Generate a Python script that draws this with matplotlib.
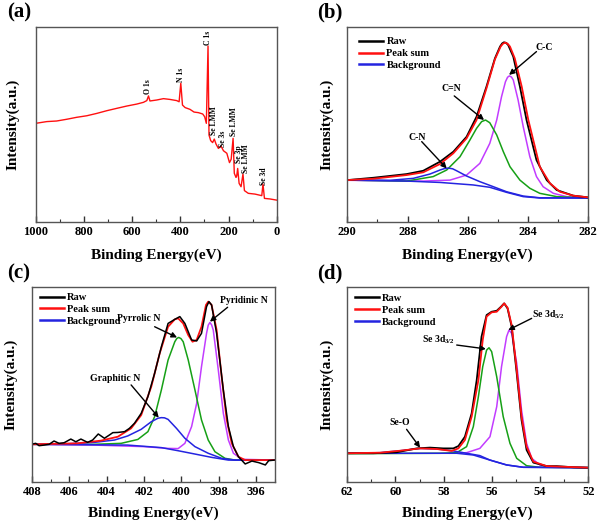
import matplotlib
matplotlib.use("Agg")
import matplotlib.pyplot as plt
from matplotlib.ticker import MultipleLocator

plt.rcParams['font.family'] = 'serif'
plt.rcParams['font.serif'] = ['Liberation Serif', 'DejaVu Serif']
plt.rcParams['font.weight'] = 'bold'
plt.rcParams['mathtext.fontset'] = 'custom'
plt.rcParams['mathtext.rm'] = 'Liberation Serif:bold'
plt.rcParams['mathtext.it'] = 'Liberation Serif:bold'
plt.rcParams['mathtext.bf'] = 'Liberation Serif:bold'

# ---- (a) survey spectrum ----
a_ev = [1000, 954, 913, 871, 830, 788, 747, 705, 664, 622, 581, 553, 539, 532, 526,
        498, 470, 443, 415, 405, 398, 391, 380, 360, 343, 325, 307, 299, 292, 285,
        281, 274, 266, 259, 252, 242, 231, 221, 207, 196, 189, 181, 176, 169, 166,
        162, 156, 148, 140, 134, 118, 90, 62, 57, 51, 28, 0]
a_int = [50.6, 51.5, 51.8, 52.7, 53.7, 54.5, 55.7, 57.1, 58.3, 59.5, 60.5, 61.4, 62.3, 64.7, 62.1,
         62.6, 63.3, 62.9, 62.3, 61.7, 71.2, 60.0, 58.7, 57.8, 56.4, 56.1, 55.4, 54.0, 50.6, 90.4,
         44.6, 41.7, 40.7, 42.5, 40.0, 37.7, 38.9, 36.5, 35.2, 30.4, 32.1, 42.9, 24.9, 22.8, 23.5,
         27.4, 19.7, 18.0, 24.5, 16.0, 14.6, 14.2, 13.4, 19.4, 12.0, 11.7, 11.1]
a_labels = ['O 1s', 'N 1s', 'C 1s', 'Se LMM', 'Se 3s', 'Se LMM', 'Se 3p', 'Se LMM', 'Se 3d']
a_label_ev = [532, 398, 284, 259, 224, 177, 156, 127, 53]
a_label_y = [65.7, 72.0, 90.9, 44.6, 38.6, 44.0, 30.0, 24.9, 18.9]

# ---- (b) C 1s ----
b_raw_ev = [290.00, 289.14, 288.03, 287.48, 286.92, 286.48, 286.04, 285.71, 285.38, 285.10, 284.93,
            284.86, 284.80, 284.73, 284.66, 284.49, 284.27, 284.05, 283.72, 283.38, 283.05, 282.50,
            282.00]
b_raw = [21.4, 22.6, 24.5, 26.2, 30.9, 36.0, 43.7, 54.0, 69.5, 84.0, 90.1,
         91.7, 92.3, 92.0, 90.9, 84.9, 69.5, 52.3, 31.7, 21.4, 16.3, 13.4,
         12.5]
b_sum_ev = [290.00, 289.14, 288.03, 287.48, 286.92, 286.48, 286.04, 285.71, 285.38, 285.10, 284.91,
            284.83, 284.76, 284.68, 284.60, 284.44, 284.21, 283.99, 283.61, 283.27, 282.94, 282.50,
            282.00]
b_sum = [21.4, 22.1, 24.0, 25.4, 29.7, 35.2, 42.9, 52.3, 68.6, 83.5, 90.1,
         91.6, 92.1, 91.6, 90.1, 84.0, 69.5, 52.3, 28.3, 19.7, 15.4, 13.4,
         12.5]
b_bg_ev = [290.00, 288.03, 286.92, 285.82, 285.27, 284.71, 284.16, 283.61, 282.00]
b_bg = [21.4, 20.9, 20.2, 18.9, 17.7, 15.1, 12.9, 12.2, 12.2]
b_cn_ev = [290.00, 288.58, 287.81, 287.26, 286.92, 286.78, 286.65, 286.50, 286.37, 286.04, 285.60,
           285.15, 284.71, 284.16, 283.61, 282.00]
b_cn = [21.4, 21.3, 22.3, 24.5, 26.6, 27.3, 27.6, 27.2, 26.2, 23.5, 20.6,
        18.0, 15.4, 13.2, 12.3, 12.2]
b_cdn_ev = [290.00, 288.03, 287.15, 286.70, 286.26, 285.93, 285.71, 285.54, 285.41, 285.27, 285.04,
            284.82, 284.60, 284.27, 283.94, 283.61, 283.05, 282.00]
b_cdn = [21.4, 20.9, 23.2, 26.6, 33.4, 42.0, 48.0, 51.5, 52.3, 50.9, 44.6,
         36.0, 28.3, 21.4, 17.2, 14.6, 12.9, 12.2]
b_cc_ev = [290.00, 287.48, 286.59, 286.04, 285.60, 285.27, 285.04, 284.88, 284.75, 284.68, 284.62,
           284.55, 284.49, 284.33, 284.16, 283.94, 283.72, 283.50, 283.16, 282.72, 282.00]
b_cc = [21.3, 20.9, 21.4, 24.0, 30.0, 40.3, 52.3, 64.3, 72.0, 74.3, 75.0,
        74.4, 72.9, 62.6, 48.9, 33.4, 23.2, 18.0, 14.6, 12.9, 12.2]

# ---- (c) N 1s ----
c_raw_ev = [408.00, 407.80, 407.62, 407.35, 407.08, 406.82, 406.55, 406.28, 405.92, 405.65, 405.38,
            405.02, 404.75, 404.45, 404.12, 403.85, 403.67, 403.40, 403.04, 402.78, 402.51, 402.15,
            401.79, 401.43, 401.07, 400.71, 400.35, 400.08, 399.81, 399.45, 399.18, 398.92, 398.65,
            398.52, 398.38, 398.11, 397.75, 397.48, 397.21, 396.94, 396.58, 396.22, 395.86, 395.50,
            395.32, 395.00]
c_raw = [19.3, 19.7, 18.5, 18.8, 19.2, 20.9, 19.7, 20.0, 21.9, 20.5, 21.9,
         20.2, 21.4, 24.5, 22.3, 24.0, 25.2, 25.3, 25.7, 27.4, 30.0, 35.1,
         43.7, 55.7, 69.3, 81.3, 83.4, 84.8, 81.3, 72.8, 72.3, 76.2, 89.9,
         92.5, 90.8, 76.2, 47.1, 28.3, 18.0, 12.8, 9.1, 10.6, 9.8, 8.6,
         10.8, 11.1]
c_sum_ev = [408.00, 405.56, 404.30, 403.40, 402.69, 402.15, 401.61, 401.16, 400.71, 400.35, 400.17,
            399.90, 399.63, 399.40, 399.18, 398.92, 398.68, 398.56, 398.38, 398.11, 397.84, 397.57,
            397.30, 396.94, 396.58, 395.00]
c_sum = [19.2, 19.7, 21.1, 23.1, 27.4, 34.2, 48.8, 65.9, 79.6, 83.4, 83.9,
         81.3, 75.3, 71.9, 72.8, 79.6, 90.8, 92.5, 90.8, 77.9, 53.9, 31.8,
         19.7, 12.8, 11.1, 11.1]
c_bg_ev = [408.00, 402.87, 401.07, 400.17, 399.27, 398.38, 397.48, 395.00]
c_bg = [19.2, 18.8, 17.5, 15.9, 14.2, 12.5, 11.1, 11.1]
c_gra_ev = [408.00, 406.46, 404.66, 403.58, 402.87, 402.15, 401.61, 401.25, 401.07, 400.90, 400.71,
            400.26, 399.81, 399.27, 398.56, 397.84, 397.12, 395.00]
c_gra = [19.2, 19.3, 20.2, 21.4, 23.5, 26.9, 30.8, 32.6, 32.9, 32.8, 32.0,
         27.4, 22.3, 18.0, 14.6, 12.0, 11.1, 11.1]
c_pyrr_ev = [408.00, 404.66, 403.22, 402.33, 401.79, 401.43, 401.07, 400.71, 400.35, 400.24, 400.14,
             400.02, 399.90, 399.63, 399.27, 398.92, 398.56, 398.20, 397.66, 397.12, 395.00]
c_pyrr = [19.2, 19.2, 19.7, 21.7, 25.7, 33.4, 47.1, 62.5, 71.9, 73.6, 74.1,
          73.5, 71.9, 62.5, 47.1, 31.7, 21.4, 15.4, 12.0, 11.1, 11.1]
c_pyri_ev = [408.00, 404.66, 401.97, 400.71, 400.17, 399.81, 399.45, 399.18, 398.92, 398.65, 398.56,
             398.47, 398.38, 398.29, 398.02, 397.75, 397.48, 397.21, 396.76, 395.00]
c_pyri = [19.2, 18.8, 18.0, 17.1, 17.0, 19.7, 28.3, 40.2, 59.1, 76.2, 80.4,
          81.8, 80.6, 77.9, 57.4, 35.1, 21.4, 14.6, 11.5, 11.1]

# ---- (d) Se 3d ----
d_raw_ev = [62.00, 60.92, 59.95, 59.12, 58.57, 58.02, 57.60, 57.39, 57.12, 56.84, 56.63, 56.43,
            56.22, 56.01, 55.80, 55.62, 55.49, 55.35, 55.18, 54.97, 54.77, 54.56, 54.28, 53.73,
            53.31, 52.62, 52.00]
d_raw = [14.6, 14.6, 15.1, 17.1, 17.5, 17.1, 17.1, 18.3, 23.1, 35.1, 52.2, 74.5,
         85.6, 87.3, 87.8, 89.9, 91.6, 89.0, 79.6, 55.7, 31.7, 16.3, 9.8, 8.0,
         8.0, 7.4, 7.2]
d_sum_ev = [62.00, 60.64, 59.81, 58.98, 58.29, 57.67, 57.39, 57.12, 56.84, 56.56, 56.38, 56.22,
            56.01, 55.80, 55.60, 55.49, 55.35, 55.18, 54.97, 54.77, 54.56, 54.28, 53.73, 52.00]
d_sum = [14.6, 14.9, 15.9, 17.1, 16.8, 15.8, 17.1, 21.4, 33.4, 52.2, 72.8, 84.8,
         87.0, 87.3, 89.9, 91.6, 89.4, 80.5, 57.4, 33.4, 18.0, 10.3, 8.0, 7.2]
d_bg_ev = [62.00, 57.46, 56.77, 56.08, 55.39, 54.70, 52.00]
d_bg = [14.6, 14.6, 13.7, 11.1, 8.6, 7.4, 7.2]
d_seo_ev = [62.00, 60.64, 59.81, 58.98, 58.29, 57.60, 57.05, 56.50, 56.08, 55.39, 54.70, 52.00]
d_seo = [14.6, 14.9, 15.9, 17.1, 16.8, 15.8, 14.6, 13.4, 11.1, 8.6, 7.4, 7.2]
d_32_ev = [62.00, 58.15, 57.46, 57.05, 56.77, 56.56, 56.38, 56.22, 56.12, 56.01, 55.80, 55.53,
           55.25, 54.97, 54.56, 54.01, 52.00]
d_32 = [14.4, 14.6, 14.9, 18.0, 28.3, 43.7, 59.1, 67.6, 68.8, 66.8, 53.9, 33.4,
        19.7, 12.0, 8.2, 7.4, 7.2]
d_52_ev = [57.74, 57.05, 56.50, 56.08, 55.80, 55.60, 55.39, 55.29, 55.18, 54.97, 54.77, 54.56,
           54.35, 54.01, 53.45, 52.00]
d_52 = [14.6, 14.9, 17.1, 23.1, 38.5, 59.1, 74.5, 77.9, 76.2, 60.8, 36.8, 19.7,
        12.0, 8.6, 7.4, 7.2]

RED = '#ff1010'
BLUE = '#2424e0'
GREEN = '#16a016'
MAGENTA = '#c23cff'


def style_axes(ax, xlim, major, minor, ylab_x, xlab_y):
    ax.set_xlim(xlim)
    ax.set_ylim(0, 100)
    ax.xaxis.set_major_locator(MultipleLocator(major))
    ax.xaxis.set_minor_locator(MultipleLocator(minor))
    ax.set_yticks([])
    ax.tick_params(axis='x', which='major', direction='in', length=4, width=1,
                   labelsize=9, pad=3, colors='#333333', labelcolor='black')
    ax.tick_params(axis='x', which='minor', direction='in', length=2, width=0.8,
                   colors='#333333')
    for tl in ax.get_xticklabels():
        tl.set_fontweight('bold')
    for sp in ax.spines.values():
        sp.set_color('#555555')
        sp.set_linewidth(1.0)
    ax.set_xlabel('Binding Energy(eV)', fontsize=11, fontweight='bold')
    ax.set_ylabel('Intensity(a.u.)', fontsize=11, fontweight='bold')
    ax.xaxis.set_label_coords(0.5, xlab_y)
    ax.yaxis.set_label_coords(ylab_x, 0.5)


def arrow(ax, text, tpos, tail, head):
    ax.text(tpos[0], tpos[1], text, fontsize=7, fontweight='bold', ha='center', va='center')
    ax.annotate('', xy=head, xytext=tail,
                arrowprops=dict(arrowstyle='-|>', color='black', lw=1.0, mutation_scale=8,
                                shrinkA=0, shrinkB=0))


def legend(ax, anchor):
    h1, = ax.plot([], [], color='black', lw=1.8)
    h2, = ax.plot([], [], color=RED, lw=1.8)
    h3, = ax.plot([], [], color=BLUE, lw=1.8)
    ax.legend([h1, h2, h3], ['Raw', 'Peak sum', 'Background'], loc='upper left',
              bbox_to_anchor=anchor, frameon=False, handlelength=2.3,
              handletextpad=0.3, labelspacing=0.25, borderpad=0, borderaxespad=0,
              prop={'weight': 'bold', 'size': 7.5})


fig = plt.figure(figsize=(6, 5.25), dpi=100)

# (a)
ax1 = fig.add_axes([0.0595, 0.5777, 0.4017, 0.3703])
ax1.plot(a_ev, a_int, color=RED, lw=1.0)
for lab, x, y in zip(a_labels, a_label_ev, a_label_y):
    ax1.text(x, y, lab, rotation=90, fontsize=5.5, fontweight='bold', ha='center', va='bottom')
style_axes(ax1, (1000, 0), 200, 100, -0.068, -0.14)

# (b)
ax2 = fig.add_axes([0.5788, 0.5777, 0.4017, 0.3703])
ax2.plot(b_cc_ev, b_cc, color=MAGENTA, lw=1.1)
ax2.plot(b_cdn_ev, b_cdn, color=GREEN, lw=1.1)
ax2.plot(b_cn_ev, b_cn, color=BLUE, lw=1.1)
ax2.plot(b_bg_ev, b_bg, color=BLUE, lw=1.1)
ax2.plot(b_raw_ev, b_raw, color='black', lw=1.3)
ax2.plot(b_sum_ev, b_sum, color=RED, lw=1.3)
arrow(ax2, 'C-C', (283.46, 89.7), (283.72, 87.5), (284.63, 75.5))
arrow(ax2, 'C=N', (286.54, 68.6), (286.45, 64.7), (285.46, 52.3))
arrow(ax2, 'C-N', (287.68, 43.4), (287.53, 41.2), (286.70, 27.4))
legend(ax2, (0.05, 0.95))
style_axes(ax2, (290, 282), 2, 1, -0.059, -0.14)

# (c)
ax3 = fig.add_axes([0.0533, 0.0825, 0.4045, 0.3708])
ax3.plot(c_pyri_ev, c_pyri, color=MAGENTA, lw=1.1)
ax3.plot(c_pyrr_ev, c_pyrr, color=GREEN, lw=1.1)
ax3.plot(c_gra_ev, c_gra, color=BLUE, lw=1.1)
ax3.plot(c_bg_ev, c_bg, color=BLUE, lw=1.1)
ax3.plot(c_sum_ev, c_sum, color=RED, lw=1.3)
ax3.plot(c_raw_ev, c_raw, color='black', lw=1.1)
arrow(ax3, 'Pyridinic N', (396.65, 93.3), (397.52, 89.6), (398.47, 82.2))
arrow(ax3, 'Pyrrolic N', (402.27, 83.9), (401.43, 79.6), (400.23, 74.1))
arrow(ax3, 'Graphitic N', (403.55, 53.1), (402.69, 49.7), (401.21, 32.9))
legend(ax3, (0.032, 0.97))
style_axes(ax3, (408, 395), 2, 1, -0.058, -0.13)

# (d)
ax4 = fig.add_axes([0.5788, 0.0825, 0.4017, 0.3708])
ax4.plot(d_52_ev, d_52, color=MAGENTA, lw=1.1)
ax4.plot(d_32_ev, d_32, color=GREEN, lw=1.1)
ax4.plot(d_bg_ev, d_bg, color=BLUE, lw=1.1)
ax4.plot(d_seo_ev, d_seo, color=BLUE, lw=1.1)
ax4.plot(d_raw_ev, d_raw, color='black', lw=1.3)
ax4.plot(d_sum_ev, d_sum, color=RED, lw=1.3)
arrow(ax4, 'Se 3d$_{5/2}$', (53.66, 86.0), (54.35, 83.9), (55.32, 77.9))
arrow(ax4, 'Se 3d$_{3/2}$', (58.20, 72.8), (57.46, 70.2), (56.25, 68.2))
arrow(ax4, 'Se-O', (59.81, 30.3), (59.54, 26.9), (58.98, 17.5))
legend(ax4, (0.032, 0.965))
style_axes(ax4, (62, 52), 2, 1, -0.059, -0.13)

for lab, x, y in [('(a)', 7, 2), ('(b)', 317, 2), ('(c)', 7, 263), ('(d)', 317, 263)]:
    fig.text(x / 600, 1 - y / 525, lab, fontsize=15, fontweight='bold', ha='left', va='top')

plt.savefig('out.png', dpi=100)
